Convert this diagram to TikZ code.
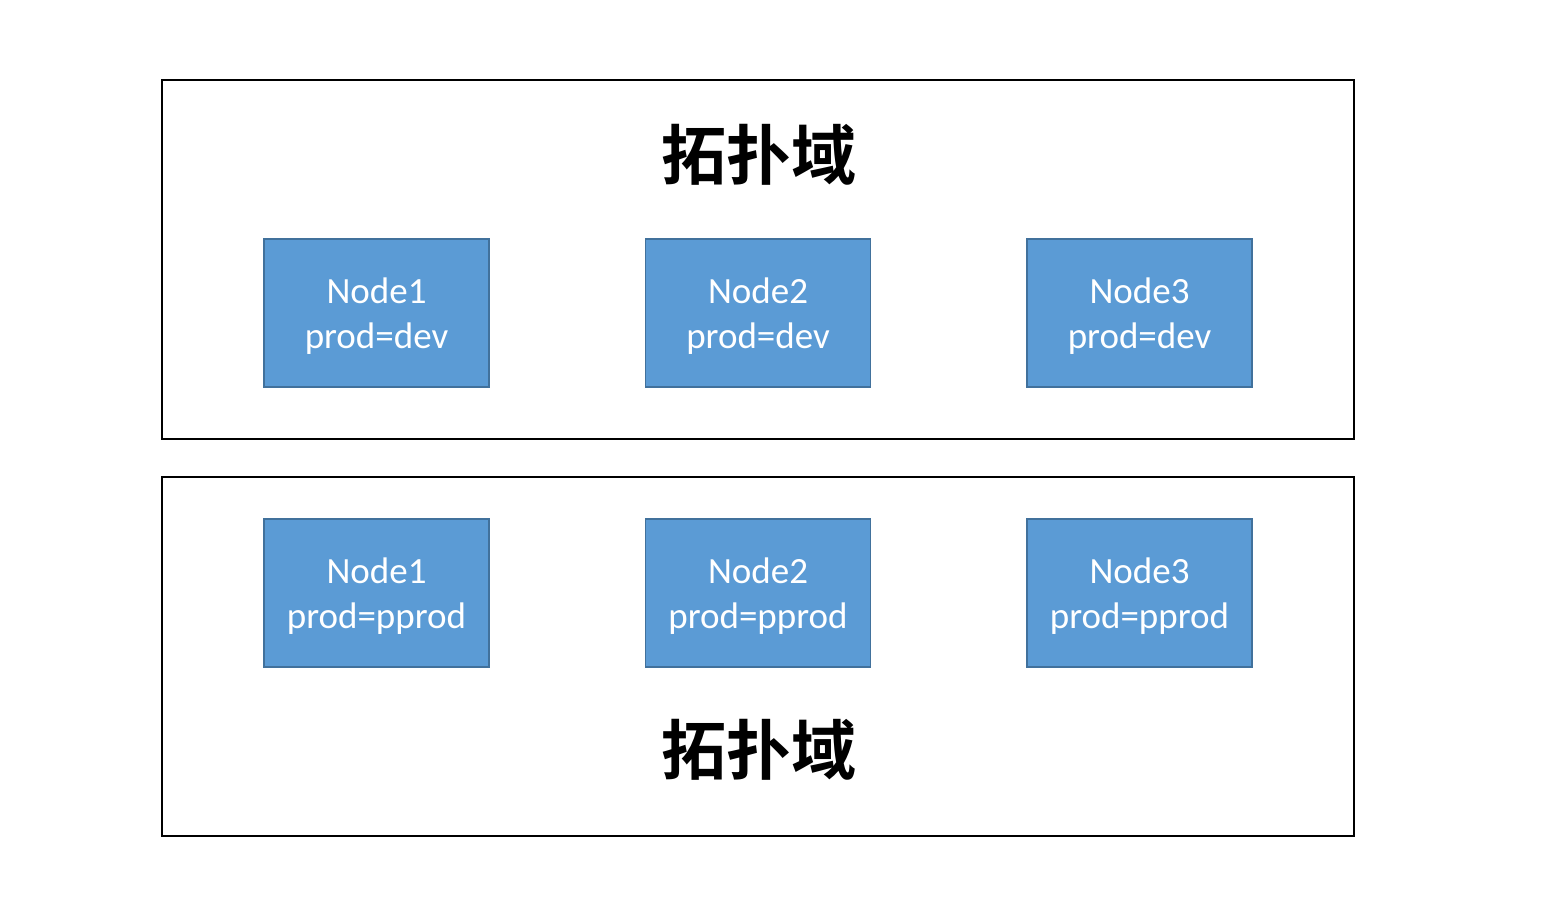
\documentclass[tikz,border=0pt]{standalone}
\usepackage{fontspec}
\setmainfont{Carlito}
\newfontfamily\cjk{Noto Sans CJK SC Bold}
\begin{document}
\begin{tikzpicture}[x=1pt,y=-1pt,
  domainbox/.style={draw=black,line width=2pt},
  nodebox/.style={draw=boxborder,fill=boxfill,line width=1.5pt,minimum width=225pt,minimum height=148pt,inner sep=0pt},
  nodetext/.style={text=white,align=center,font=\fontsize{37}{45}\selectfont,inner sep=0pt},
  titletext/.style={font=\cjk\fontsize{65}{70}\selectfont,text=black}]
\definecolor{boxfill}{HTML}{5B9BD5}
\definecolor{boxborder}{HTML}{41719C}
\useasboundingbox (0,0) rectangle (1558,898);
\draw[domainbox] (162,80) rectangle (1354,439);
\draw[domainbox] (162,477) rectangle (1354,836);
\node[titletext] (t1) at (759,155) {拓扑域};
\node[titletext] (t2) at (759,750) {拓扑域};
\node[nodebox] (a1) at (376.5,313) {};
\node[nodebox] (a2) at (758,313) {};
\node[nodebox] (a3) at (1139.5,313) {};
\node[nodebox] (b1) at (376.5,593) {};
\node[nodebox] (b2) at (758,593) {};
\node[nodebox] (b3) at (1139.5,593) {};
\node[nodetext] (la1) at ([yshift=-3pt]a1.center) {Node1\\prod=dev};
\node[nodetext] (la2) at ([yshift=-3pt]a2.center) {Node2\\prod=dev};
\node[nodetext] (la3) at ([yshift=-3pt]a3.center) {Node3\\prod=dev};
\node[nodetext] (lb1) at ([yshift=-3pt]b1.center) {Node1\\prod=pprod};
\node[nodetext] (lb2) at ([yshift=-3pt]b2.center) {Node2\\prod=pprod};
\node[nodetext] (lb3) at ([yshift=-3pt]b3.center) {Node3\\prod=pprod};
\end{tikzpicture}
\end{document}
